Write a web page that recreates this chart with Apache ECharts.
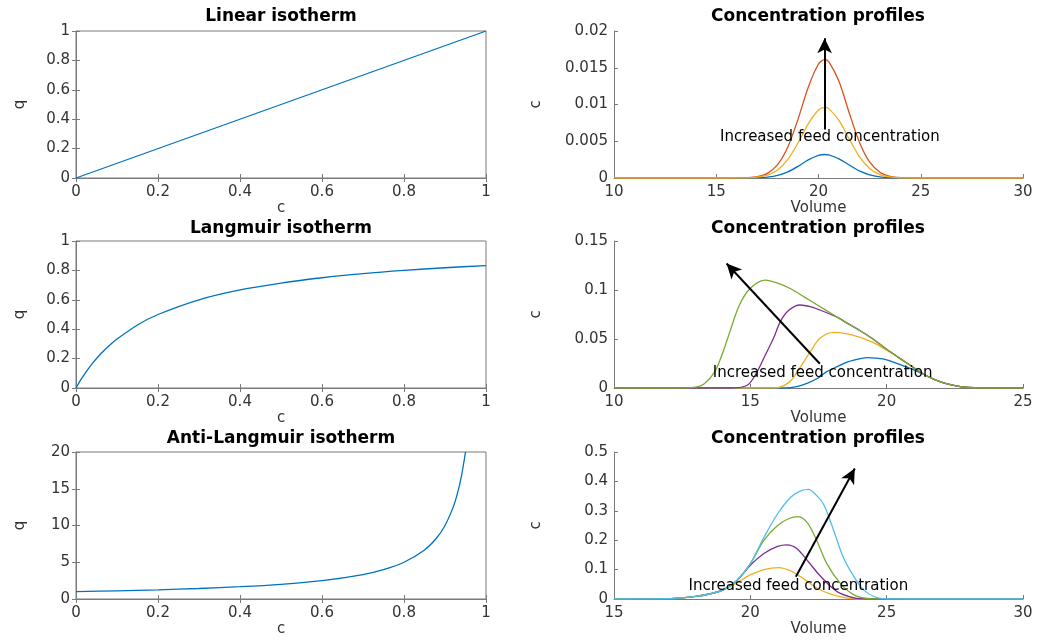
<!DOCTYPE html>
<html>
<head>
<meta charset="utf-8">
<script src="https://cdn.jsdelivr.net/npm/echarts@6/dist/echarts.min.js"></script>
<style>
  html, body { margin: 0; padding: 0; background: #fff; }
  #chart { width: 1043px; height: 644px; }
</style>
</head>
<body>
<div id="chart"></div>
<script>
  // isotherms (left column)
  const linearC = [0, 1]
  const linearQ = [0, 1]
  const langmuirC = [0, 0.01, 0.02, 0.04, 0.06, 0.08, 0.1, 0.15, 0.2, 0.3, 0.4, 0.5, 0.6, 0.7, 0.8, 0.9, 1]
  const langmuirQ = [0, 0.048, 0.091, 0.167, 0.231, 0.286, 0.333, 0.429, 0.5, 0.6, 0.667, 0.714, 0.75, 0.778, 0.8, 0.818, 0.833]
  const antiC = [0, 0.1, 0.2, 0.3, 0.4, 0.5, 0.6, 0.7, 0.75, 0.8, 0.85, 0.88, 0.9, 0.92, 0.93, 0.94, 0.95]
  const antiQ = [1, 1.11, 1.25, 1.43, 1.67, 2, 2.5, 3.33, 4, 5, 6.67, 8.33, 10, 12.5, 14.3, 16.7, 20]

  // linear profiles (top right)
  const linVolume = [10, 15, 16, 16.5, 17, 17.5, 18, 18.5, 19, 19.5, 20, 20.3, 20.5, 21, 21.5, 22, 22.5, 23, 23.5, 24, 24.5, 25, 30]
  const linBlue = [0, 0, 0, 0.00001, 0.00004, 0.00013, 0.00036, 0.00084, 0.00159, 0.00246, 0.00308, 0.0032, 0.00315, 0.00261, 0.00177, 0.00097, 0.00043, 0.00016, 0.00005, 0.00001, 0, 0, 0]
  const linOrange = [0, 0, 0.00001, 0.00004, 0.00018, 0.00063, 0.00181, 0.00422, 0.00801, 0.01236, 0.01551, 0.0161, 0.01584, 0.01315, 0.00888, 0.00488, 0.00218, 0.00079, 0.00023, 0.00006, 0.00001, 0, 0]
  const linYellow = [0, 0, 0, 0.00002, 0.00011, 0.00038, 0.00108, 0.00252, 0.00478, 0.00737, 0.00925, 0.0096, 0.00944, 0.00784, 0.0053, 0.00291, 0.0013, 0.00047, 0.00014, 0.00003, 0, 0, 0]

  // langmuir profiles (middle right), [volume, c]
  const langBlue = [[10, 0], [16.3, 0], [16.7, 0.0015], [17.1, 0.005], [17.5, 0.0105], [17.8, 0.0167], [18.2, 0.022], [18.6, 0.027], [19, 0.0298], [19.3, 0.031], [19.6, 0.0305], [20, 0.0288], [20.5, 0.0238], [21, 0.0185], [21.5, 0.012], [22, 0.006], [22.5, 0.0025], [23, 0.0005], [23.5, 0], [25, 0]]
  const langYellow = [[10, 0], [15.9, 0], [16.45, 0.0065], [16.8, 0.02], [17.2, 0.037], [17.55, 0.0507], [18.05, 0.0568], [18.5, 0.0555], [19, 0.052], [19.5, 0.0465], [20, 0.0385], [20.5, 0.03], [21, 0.0205], [21.5, 0.012], [22, 0.006], [22.5, 0.0025], [23, 0.0005], [23.5, 0], [25, 0]]
  const langPurple = [[10, 0], [14.3, 0], [14.9, 0.003], [15.25, 0.0167], [15.55, 0.0337], [15.85, 0.0507], [16.1, 0.0677], [16.4, 0.079], [16.82, 0.0847], [17.2, 0.083], [17.55, 0.0796], [18, 0.0745], [18.3, 0.0705], [18.5, 0.067], [19, 0.059], [19.5, 0.05], [20, 0.0395], [20.5, 0.03], [21, 0.0205], [21.5, 0.012], [22, 0.006], [22.5, 0.0025], [23, 0.0005], [23.5, 0], [25, 0]]
  const langGreen = [[10, 0], [12.5, 0], [13, 0.0008], [13.3, 0.004], [13.7, 0.0167], [14, 0.037], [14.25, 0.0575], [14.6, 0.0847], [15, 0.1017], [15.55, 0.11], [16, 0.107], [16.5, 0.101], [17, 0.0925], [17.5, 0.084], [18, 0.0755], [18.5, 0.067], [19, 0.059], [19.5, 0.05], [20, 0.0395], [20.5, 0.03], [21, 0.0205], [21.5, 0.012], [22, 0.006], [22.5, 0.0025], [23, 0.0005], [23.5, 0], [25, 0]]

  // anti-langmuir profiles (bottom right), [volume, c]
  const antiYellow = [[15, 0], [17, 0.001], [17.5, 0.004], [18, 0.009], [18.5, 0.017], [19, 0.03], [19.5, 0.055], [20, 0.082], [20.5, 0.1], [21.03, 0.107], [21.5, 0.095], [22, 0.066], [22.5, 0.034], [23, 0.015], [23.5, 0.004], [24, 0], [30, 0]]
  const antiPurple = [[15, 0], [17, 0.001], [17.5, 0.004], [18, 0.009], [18.5, 0.017], [19, 0.031], [19.5, 0.062], [20, 0.115], [20.5, 0.155], [21, 0.179], [21.33, 0.184], [21.7, 0.172], [22.1, 0.13], [22.5, 0.085], [23, 0.038], [23.3, 0.019], [23.9, 0.002], [24.5, 0], [30, 0]]
  const antiGreen = [[15, 0], [17, 0.001], [17.5, 0.004], [18, 0.009], [18.5, 0.017], [19, 0.031], [19.5, 0.062], [20, 0.12], [20.5, 0.2], [21, 0.25], [21.4, 0.273], [21.76, 0.28], [22.1, 0.258], [22.43, 0.2], [22.8, 0.121], [23.3, 0.053], [23.8, 0.014], [24.3, 0.002], [25, 0], [30, 0]]
  const antiCyan = [[15, 0], [17, 0.001], [17.5, 0.004], [18, 0.009], [18.5, 0.017], [19, 0.031], [19.5, 0.062], [20, 0.12], [20.5, 0.21], [21, 0.29], [21.5, 0.348], [21.85, 0.368], [22.13, 0.373], [22.4, 0.355], [22.7, 0.32], [23.05, 0.235], [23.4, 0.144], [23.8, 0.076], [24.15, 0.031], [24.6, 0.006], [25, 0.001], [26, 0], [30, 0]]

  // arrows [from, to] and label position
  const linArrow = [[20.3, 0.0066], [20.3, 0.019]]
  const linText = [20.56, 0.0055]
  const langArrow = [[17.55, 0.0248], [14.13, 0.127]]
  const langText = [17.65, 0.0156]
  const antiArrow = [[21.67, 0.076], [23.83, 0.444]]
  const antiText = [21.76, 0.045]
  const annotation = 'Increased feed concentration'

  const titles = ['Linear isotherm', 'Concentration profiles', 'Langmuir isotherm', 'Concentration profiles', 'Anti-Langmuir isotherm', 'Concentration profiles']

  const BLUE = '#0072BD', ORANGE = '#D95319', YELLOW = '#EDB120', PURPLE = '#7E2F8E', GREEN = '#77AC30', CYAN = '#4DBEEE'
  const FONT = 'DejaVu Sans'
  const AXIS_COLOR = '#7a7a7a'
  const LABEL_COLOR = '#333'

  const zip = (a, b) => a.map((v, i) => [v, b[i]])

  const rows = [31, 241, 452]
  const grids = []
  rows.forEach(top => {
    grids.push({ left: 76, top: top, width: 410, height: 147, show: true, borderColor: AXIS_COLOR, borderWidth: 1, containLabel: false })
    grids.push({ left: 614, top: top, width: 409, height: 147, containLabel: false })
  })

  const xAxis = []
  const yAxis = []
  function mainX(gi, min, max, step, name) {
    xAxis.push({
      type: 'value', gridIndex: gi, min: min, max: max, interval: step,
      name: name, nameLocation: 'middle', nameGap: 22,
      nameTextStyle: { fontFamily: FONT, fontSize: 15, color: LABEL_COLOR },
      axisLine: { show: true, onZero: false, lineStyle: { color: AXIS_COLOR } },
      axisTick: { show: true, inside: true, length: 4, lineStyle: { color: AXIS_COLOR } },
      axisLabel: { fontFamily: FONT, fontSize: 15, color: LABEL_COLOR, margin: 7 },
      splitLine: { show: false }
    })
    return xAxis.length - 1
  }
  function mainY(gi, min, max, step, name, gap) {
    yAxis.push({
      type: 'value', gridIndex: gi, min: min, max: max, interval: step,
      name: name, nameLocation: 'middle', nameGap: gap,
      nameTextStyle: { fontFamily: FONT, fontSize: 15, color: LABEL_COLOR },
      axisLine: { show: true, onZero: false, lineStyle: { color: AXIS_COLOR } },
      axisTick: { show: true, inside: true, length: 4, lineStyle: { color: AXIS_COLOR } },
      axisLabel: { fontFamily: FONT, fontSize: 15, color: LABEL_COLOR, margin: 6 },
      splitLine: { show: false }
    })
    return yAxis.length - 1
  }
  // ticks on top/right edge of the boxed plots
  function boxAxes(gi, xmin, xmax, xstep, ymin, ymax, ystep) {
    const common = {
      type: 'value', gridIndex: gi,
      axisLine: { show: false },
      axisTick: { show: true, inside: true, length: 4, lineStyle: { color: AXIS_COLOR } },
      axisLabel: { show: false },
      splitLine: { show: false }
    }
    xAxis.push(Object.assign({ position: 'top', min: xmin, max: xmax, interval: xstep }, common))
    yAxis.push(Object.assign({ position: 'right', min: ymin, max: ymax, interval: ystep }, common))
  }

  // axes for each panel
  const ax = []
  ax[0] = [mainX(0, 0, 1, 0.2, 'c'), mainY(0, 0, 1, 0.2, 'q', 48)]
  ax[1] = [mainX(1, 10, 30, 5, 'Volume'), mainY(1, 0, 0.02, 0.005, 'c', 70)]
  ax[2] = [mainX(2, 0, 1, 0.2, 'c'), mainY(2, 0, 1, 0.2, 'q', 48)]
  ax[3] = [mainX(3, 10, 25, 5, 'Volume'), mainY(3, 0, 0.15, 0.05, 'c', 70)]
  ax[4] = [mainX(4, 0, 1, 0.2, 'c'), mainY(4, 0, 20, 5, 'q', 48)]
  ax[5] = [mainX(5, 15, 30, 5, 'Volume'), mainY(5, 0, 0.5, 0.1, 'c', 70)]
  boxAxes(0, 0, 1, 0.2, 0, 1, 0.2)
  boxAxes(2, 0, 1, 0.2, 0, 1, 0.2)
  boxAxes(4, 0, 1, 0.2, 0, 20, 5)

  function curve(panel, data, color, smooth) {
    return {
      type: 'line', xAxisIndex: ax[panel][0], yAxisIndex: ax[panel][1],
      data: data, showSymbol: false, symbol: 'none',
      smooth: smooth ? 0.3 : false,
      lineStyle: { color: color, width: 1.3 }, itemStyle: { color: color },
      silent: true
    }
  }
  function annotate(s, arrow, textPos) {
    s.markLine = {
      silent: true, symbol: ['none', 'arrow'], symbolSize: [11, 15],
      label: { show: false },
      lineStyle: { color: '#000', width: 2, type: 'solid' },
      emphasis: { disabled: true },
      data: [[{ coord: arrow[0] }, { coord: arrow[1] }]]
    }
    s.markPoint = {
      silent: true, symbol: 'circle', symbolSize: 1,
      itemStyle: { color: 'rgba(0,0,0,0)' },
      label: { show: true, position: 'inside', formatter: annotation, fontFamily: FONT, fontSize: 15, color: '#000' },
      data: [{ coord: textPos }]
    }
    return s
  }

  const series = [
    curve(0, zip(linearC, linearQ), BLUE, false),
    curve(2, zip(langmuirC, langmuirQ), BLUE, true),
    curve(4, zip(antiC, antiQ), BLUE, true),

    curve(1, zip(linVolume, linBlue), BLUE, true),
    curve(1, zip(linVolume, linOrange), ORANGE, true),
    annotate(curve(1, zip(linVolume, linYellow), YELLOW, true), linArrow, linText),

    curve(3, langBlue, BLUE, true),
    curve(3, langYellow, YELLOW, true),
    curve(3, langPurple, PURPLE, true),
    annotate(curve(3, langGreen, GREEN, true), langArrow, langText),

    curve(5, antiYellow, YELLOW, true),
    curve(5, antiPurple, PURPLE, true),
    curve(5, antiGreen, GREEN, true),
    annotate(curve(5, antiCyan, CYAN, true), antiArrow, antiText)
  ]

  const titleY = [17, 229, 439]
  const graphic = titles.map((t, i) => ({
    type: 'text',
    x: i % 2 === 0 ? 281 : 818,
    y: titleY[Math.floor(i / 2)],
    style: {
      text: t, fill: '#000', font: 'bold 17px "DejaVu Sans"',
      align: 'center', verticalAlign: 'middle',
      textAlign: 'center', textVerticalAlign: 'middle'
    }
  }))

  const chart = echarts.init(document.getElementById('chart'), null, { renderer: 'canvas' })
  chart.setOption({
    animation: false,
    backgroundColor: '#fff',
    grid: grids,
    xAxis: xAxis,
    yAxis: yAxis,
    series: series,
    graphic: graphic
  })
  window.onresize = function() {
    chart.resize()
  }
</script>
</body>
</html>
